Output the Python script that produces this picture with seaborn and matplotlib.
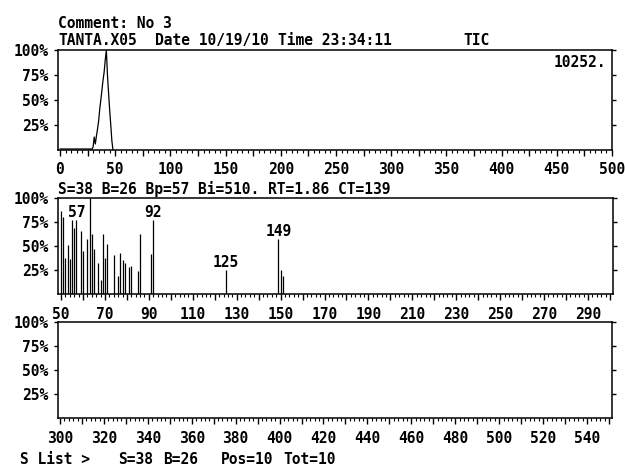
import matplotlib
matplotlib.use("Agg")
import matplotlib.pyplot as plt
import seaborn as sns
import pandas as pd
from matplotlib.ticker import MultipleLocator, FixedLocator, FuncFormatter

# ---- data ----
tic_scan = [0, 29, 30, 31, 32, 33, 34, 35, 36, 37, 38, 39, 40, 41, 42, 43, 44, 45, 46, 47, 48]
tic_int = [1, 1, 3, 13, 6, 14, 21, 29, 41, 50, 60, 70, 78, 90, 100, 75, 57, 40, 25, 9, 0]

mz = [50, 51, 52, 53, 54, 55, 56, 57, 59, 60, 62, 63, 64, 65, 67, 68, 69, 70, 71,
      74, 76, 77, 78, 79, 81, 82, 85, 86, 91, 92, 125, 149, 150, 151]
abund = [87, 80, 38, 51, 37, 77, 69, 77, 66, 45, 57, 100, 63, 47, 33, 15, 63, 38, 52,
         41, 19, 43, 36, 33, 28, 29, 24, 63, 42, 77, 25, 57, 25, 19]
peak_labels = [57, 92, 125, 149]

y_ticks = [25, 50, 75, 100]
y_tick_labels = ["25%", "50%", "75%", "100%"]

comment_text = "Comment: No 3"
file_text = "TANTA.X05"
date_text = "Date 10/19/10"
time_text = "Time 23:34:11"
tic_text = "TIC"
tic_max_text = "10252."
scan_text = "S=38 B=26 Bp=57 Bi=510. RT=1.86 CT=139"
bottom_texts = ["S List >", "S=38", "B=26", "Pos=10", "Tot=10"]
bottom_x = [20, 118, 163, 221, 283]

# ---- style ----
sns.set_theme(style="ticks")
plt.rcParams["font.family"] = ["DejaVu Sans Mono"]
plt.rcParams["font.weight"] = "bold"
plt.rcParams["font.size"] = 10.5
plt.rcParams["axes.linewidth"] = 1.1
plt.rcParams["axes.edgecolor"] = "black"
plt.rcParams["xtick.color"] = "black"
plt.rcParams["ytick.color"] = "black"
plt.rcParams["text.color"] = "black"

W, H = 625, 468
fig = plt.figure(figsize=(W / 100, H / 100), dpi=100)
fig.patch.set_facecolor("white")


def ax_at(l, r, t, b):
    return fig.add_axes([l / W, 1 - b / H, (r - l) / W, (b - t) / H])


def style_axis(ax, major, minor, label_step, start):
    ax.set_ylim(0, 100)
    ax.set_yticks(y_ticks)
    ax.set_yticklabels(y_tick_labels)
    ax.tick_params(axis="y", which="both", direction="out", length=3, width=1,
                   left=True, right=True, labelleft=True, labelright=False, pad=4,
                   labelsize=10.5)
    ax.xaxis.set_major_locator(MultipleLocator(major))
    ax.xaxis.set_minor_locator(MultipleLocator(minor))
    ax.xaxis.set_major_formatter(FuncFormatter(
        lambda v, p: f"{int(round(v))}" if abs(((v - start) / label_step) - round((v - start) / label_step)) < 1e-6 else ""))
    ax.tick_params(axis="x", which="major", direction="out", length=4, width=1, pad=5,
                   labelsize=10.5)
    ax.tick_params(axis="x", which="minor", direction="out", length=2, width=0.8)
    for s in ax.spines.values():
        s.set_visible(True)
        s.set_color("black")
    ax.set_xlabel("")
    ax.set_ylabel("")
    ax.set_facecolor("white")


# panel 1: TIC
ax1 = ax_at(58, 612, 50, 150)
df_tic = pd.DataFrame({"scan": tic_scan, "int": tic_int})
sns.lineplot(data=df_tic, x="scan", y="int", ax=ax1, color="black", lw=0.9)
ax1.set_xlim(-1.8, 500)
style_axis(ax1, 25, 5, 50, 0)
ax1.text(0.989, 0.95, tic_max_text, transform=ax1.transAxes, ha="right", va="top")

# panel 2: spectrum 50-300
ax2 = ax_at(58, 613, 198, 294.3)
ax2.vlines(mz, 0, abund, color="black", lw=0.9)
ax2.set_xlim(48.6, 301.4)
style_axis(ax2, 10, 2, 20, 50)
for m in peak_labels:
    h = abund[mz.index(m)]
    ax2.annotate(str(m), (m, h), xytext=(0, 3), textcoords="offset pixels",
                 ha="center", va="baseline")

# panel 3: spectrum 300-550 (empty)
ax3 = ax_at(58, 612, 322, 418.3)
ax3.vlines([], 0, [], color="black", lw=0.9)
ax3.set_xlim(299.1, 551.4)
style_axis(ax3, 10, 2, 20, 300)


def ftext(x, y, s):
    fig.text(x / W, 1 - y / H, s, ha="left", va="baseline")


ftext(58, 28, comment_text)
ftext(58, 45, file_text)
ftext(155, 45, date_text)
ftext(278, 45, time_text)
ftext(463, 45, tic_text)
ftext(58, 194, scan_text)
for x, s in zip(bottom_x, bottom_texts):
    ftext(x, 464, s)

fig.savefig("out.png", dpi=100, facecolor="white")
